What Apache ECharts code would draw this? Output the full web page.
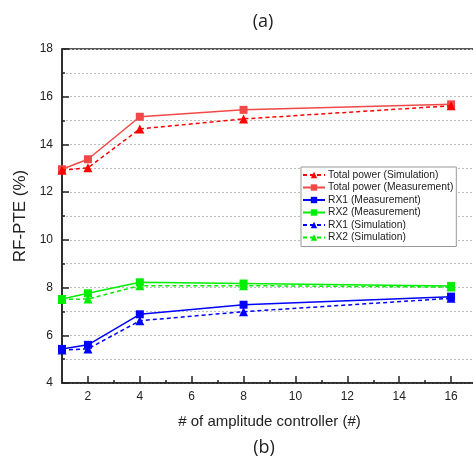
<!DOCTYPE html>
<html>
<head>
<meta charset="utf-8">
<script src="https://cdn.jsdelivr.net/npm/echarts@6/dist/echarts.min.js"></script>
<style>
  html, body { margin: 0; padding: 0; background: #fff; }
  #chart { width: 473px; height: 463px; }
</style>
</head>
<body>
<div id="chart"></div>
<script>
const xValues = [1, 2, 4, 8, 16]
const totalSim = [12.92, 13.02, 14.65, 15.07, 15.62]
const totalMeas = [12.96, 13.38, 15.16, 15.45, 15.68]
const rx1Meas = [5.43, 5.6, 6.88, 7.28, 7.62]
const rx2Meas = [7.52, 7.76, 8.22, 8.17, 8.07]
const rx1Sim = [5.38, 5.43, 6.61, 6.99, 7.55]
const rx2Sim = [7.5, 7.52, 8.08, 8.08, 8.02]

const xMajorTicks = [2, 4, 6, 8, 10, 12, 14, 16]
const xMinorTicks = [3, 5, 7, 9, 11, 13, 15]

const font = 'Liberation Sans, Arial, sans-serif'

function pairs(ys) {
  return xValues.map((x, i) => [x, ys[i]])
}

function makeSeries(name, ys, color, dashed, symbol) {
  return {
    name,
    type: 'line',
    data: pairs(ys),
    symbol,
    symbolSize: symbol === 'rect' ? 8 : 9,
    lineStyle: { color, width: 1.5, type: dashed ? [4, 3] : 'solid' },
    itemStyle: { color },
    z: dashed ? 3 : 2
  }
}

const chart = echarts.init(document.getElementById('chart'))

chart.setOption({
  animation: false,
  title: [
    { text: '(a)', left: 258, top: 8, textAlign: 'center',
      textStyle: { fontFamily: 'Open Sans', fontSize: 18, fontWeight: 'normal', color: '#222' } },
    { text: '(b)', left: 259, top: 434, textAlign: 'center',
      textStyle: { fontFamily: 'Open Sans', fontSize: 18, fontWeight: 'normal', color: '#222' } }
  ],
  legend: {
    left: 301,
    top: 167,
    orient: 'vertical',
    itemWidth: 22,
    itemHeight: 8,
    itemGap: 0.5,
    padding: [2, 3, 3, 1],
    borderColor: '#999',
    borderWidth: 1,
    backgroundColor: '#fff',
    textStyle: { fontFamily: font, fontSize: 10.3, lineHeight: 12, color: '#222', padding: [0, 0, 0, -2] },
    data: [
      'Total power (Simulation)',
      'Total power (Measurement)',
      'RX1 (Measurement)',
      'RX2 (Measurement)',
      'RX1 (Simulation)',
      'RX2 (Simulation)'
    ]
  },
  grid: {
    left: 62,
    top: 49,
    width: 415,
    bottom: 80,
    outerBoundsMode: 'none',
    show: true,
    borderColor: '#222',
    borderWidth: 1.5,
    backgroundColor: 'transparent'
  },
  xAxis: [
    {
      type: 'value',
      min: 1,
      max: 17,
      name: '# of amplitude controller (#)',
      nameLocation: 'middle',
      nameGap: 31,
      nameTextStyle: { fontFamily: font, fontSize: 15, color: '#222' },
      axisLine: { show: true, lineStyle: { color: '#222', width: 1.5 } },
      axisTick: { show: true, inside: true, length: 7, customValues: xMajorTicks,
        lineStyle: { color: '#222', width: 1.5 } },
      axisLabel: { customValues: xMajorTicks, margin: 8, fontFamily: font, fontSize: 12, color: '#222' },
      splitLine: { show: false }
    },
    {
      type: 'value',
      min: 1,
      max: 17,
      position: 'bottom',
      axisLine: { show: false },
      axisTick: { show: true, inside: true, length: 3, customValues: xMinorTicks,
        lineStyle: { color: '#222', width: 1.5 } },
      axisLabel: { show: false },
      splitLine: { show: false }
    }
  ],
  yAxis: {
    type: 'value',
    min: 4,
    max: 18,
    interval: 2,
    name: 'RF-PTE (%)',
    nameLocation: 'middle',
    nameGap: 29,
    nameTextStyle: { fontFamily: font, fontSize: 17, color: '#222' },
    axisLine: { show: true, lineStyle: { color: '#222', width: 1.5 } },
    axisTick: { show: true, inside: true, length: 7, lineStyle: { color: '#222', width: 1.5 } },
    minorTick: { show: true, splitNumber: 2, length: 3, lineStyle: { color: '#222', width: 1.5 } },
    axisLabel: { margin: 9, fontFamily: font, fontSize: 12, color: '#222' },
    splitLine: { show: true, lineStyle: { color: '#bbb', type: [2, 2], width: 1 } },
    minorSplitLine: { show: true, lineStyle: { color: '#bbb', type: [2, 2], width: 1 } }
  },
  series: [
    makeSeries('Total power (Simulation)', totalSim, '#ff0000', true, 'triangle'),
    makeSeries('Total power (Measurement)', totalMeas, '#f24848', false, 'rect'),
    makeSeries('RX1 (Measurement)', rx1Meas, '#0000ff', false, 'rect'),
    makeSeries('RX2 (Measurement)', rx2Meas, '#00ee00', false, 'rect'),
    makeSeries('RX1 (Simulation)', rx1Sim, '#0000ff', true, 'triangle'),
    makeSeries('RX2 (Simulation)', rx2Sim, '#00ee00', true, 'triangle')
  ]
})
</script>
</body>
</html>
